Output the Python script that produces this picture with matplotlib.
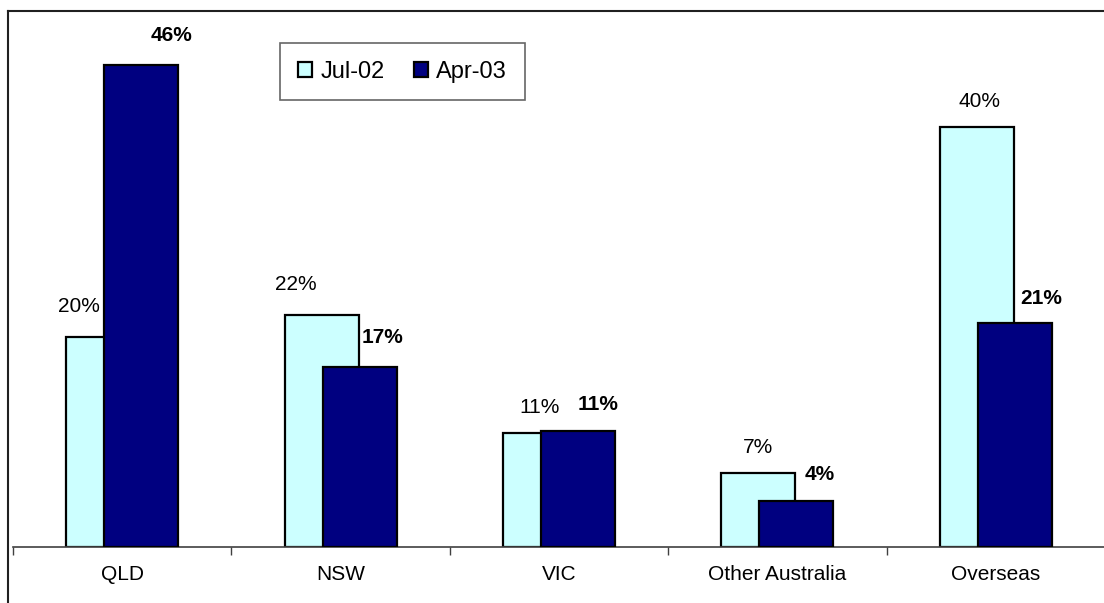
import matplotlib.pyplot as plt
from matplotlib.lines import Line2D
import numpy as np

plt.rcParams['font.family'] = ['Liberation Sans', 'DejaVu Sans']

regions = ["QLD", "NSW", "VIC", "Other Australia", "Overseas"]
jul02 = [20.0, 22.1, 10.9, 7.1, 40.1]
apr03 = [46.0, 17.2, 11.1, 4.4, 21.4]
jul_labels = ["20%", "22%", "11%", "7%", "40%"]
apr_labels = ["46%", "17%", "11%", "4%", "21%"]

# label nudges in pixels (x shift, gap above bar)
jul_dx = [-24, -26, 0, 0, 3]
jul_gap = [25, 25, 20, 20, 20]
apr_dx = [30, 23, 20, 23, 26]
apr_gap = [24, 24, 21, 21, 19]

W, H = 1104, 603
fig = plt.figure(figsize=(W / 100, H / 100), dpi=100)
# axes: x from 13 to 1105 px, baseline at y=547, top at y=20
ax = fig.add_axes([13 / W, 1 - 547 / H, 1092 / W, 527 / H])

x = np.arange(len(regions))
bw = 0.339
off = 0.087
light = "#CCFFFF"
dark = "#000080"

ax.bar(x - off, jul02, bw, color=light, edgecolor="black", linewidth=1.6, label="Jul-02", zorder=2)
ax.bar(x + off, apr03, bw, color=dark, edgecolor="black", linewidth=1.6, label="Apr-03", zorder=3)

pt = 0.72  # points per pixel at dpi 100
for i in range(len(regions)):
    ax.annotate(jul_labels[i], (x[i] - off, jul02[i]), xytext=(jul_dx[i] * pt, jul_gap[i] * pt),
                textcoords="offset points", ha="center", va="baseline", fontsize=15)
    ax.annotate(apr_labels[i], (x[i] + off, apr03[i]), xytext=(apr_dx[i] * pt, apr_gap[i] * pt),
                textcoords="offset points", ha="center", va="baseline", fontsize=15, fontweight="bold")

ax.set_xlim(-0.5, len(regions) - 0.5)
ax.set_ylim(0, 527 / 10.48)

ax.set_xticks(np.arange(len(regions) + 1) - 0.5)
ax.set_xticklabels([])
ax.tick_params(axis="x", which="major", length=6, width=1, color="#404040", direction="out")
ax.set_xticks(x, minor=True)
ax.set_xticklabels(regions, minor=True, fontsize=15)
ax.tick_params(axis="x", which="minor", length=0, pad=13)
ax.set_yticks([])

for s in ["top", "right", "left"]:
    ax.spines[s].set_visible(False)
ax.spines["bottom"].set_color("#404040")
ax.spines["bottom"].set_linewidth(1.2)

leg = ax.legend(loc="upper left", bbox_to_anchor=(280 / W, 1 - 43 / H), bbox_transform=fig.transFigure,
                ncol=2, fontsize=17, frameon=True, fancybox=False, handlelength=0.6, handleheight=0.6,
                handletextpad=0.35, columnspacing=1.25, borderpad=0.75, borderaxespad=0)
leg.get_frame().set_edgecolor("#404040")
leg.get_frame().set_linewidth(1.2)

# outer chart frame (left and top edges visible)
fig.add_artist(Line2D([7.5 / W, 7.5 / W], [0, 1 - 10.5 / H], transform=fig.transFigure, color="#202020", lw=1.5))
fig.add_artist(Line2D([7.5 / W, 1], [1 - 10.5 / H, 1 - 10.5 / H], transform=fig.transFigure, color="#202020", lw=1.5))

fig.savefig("out.png", dpi=100)
